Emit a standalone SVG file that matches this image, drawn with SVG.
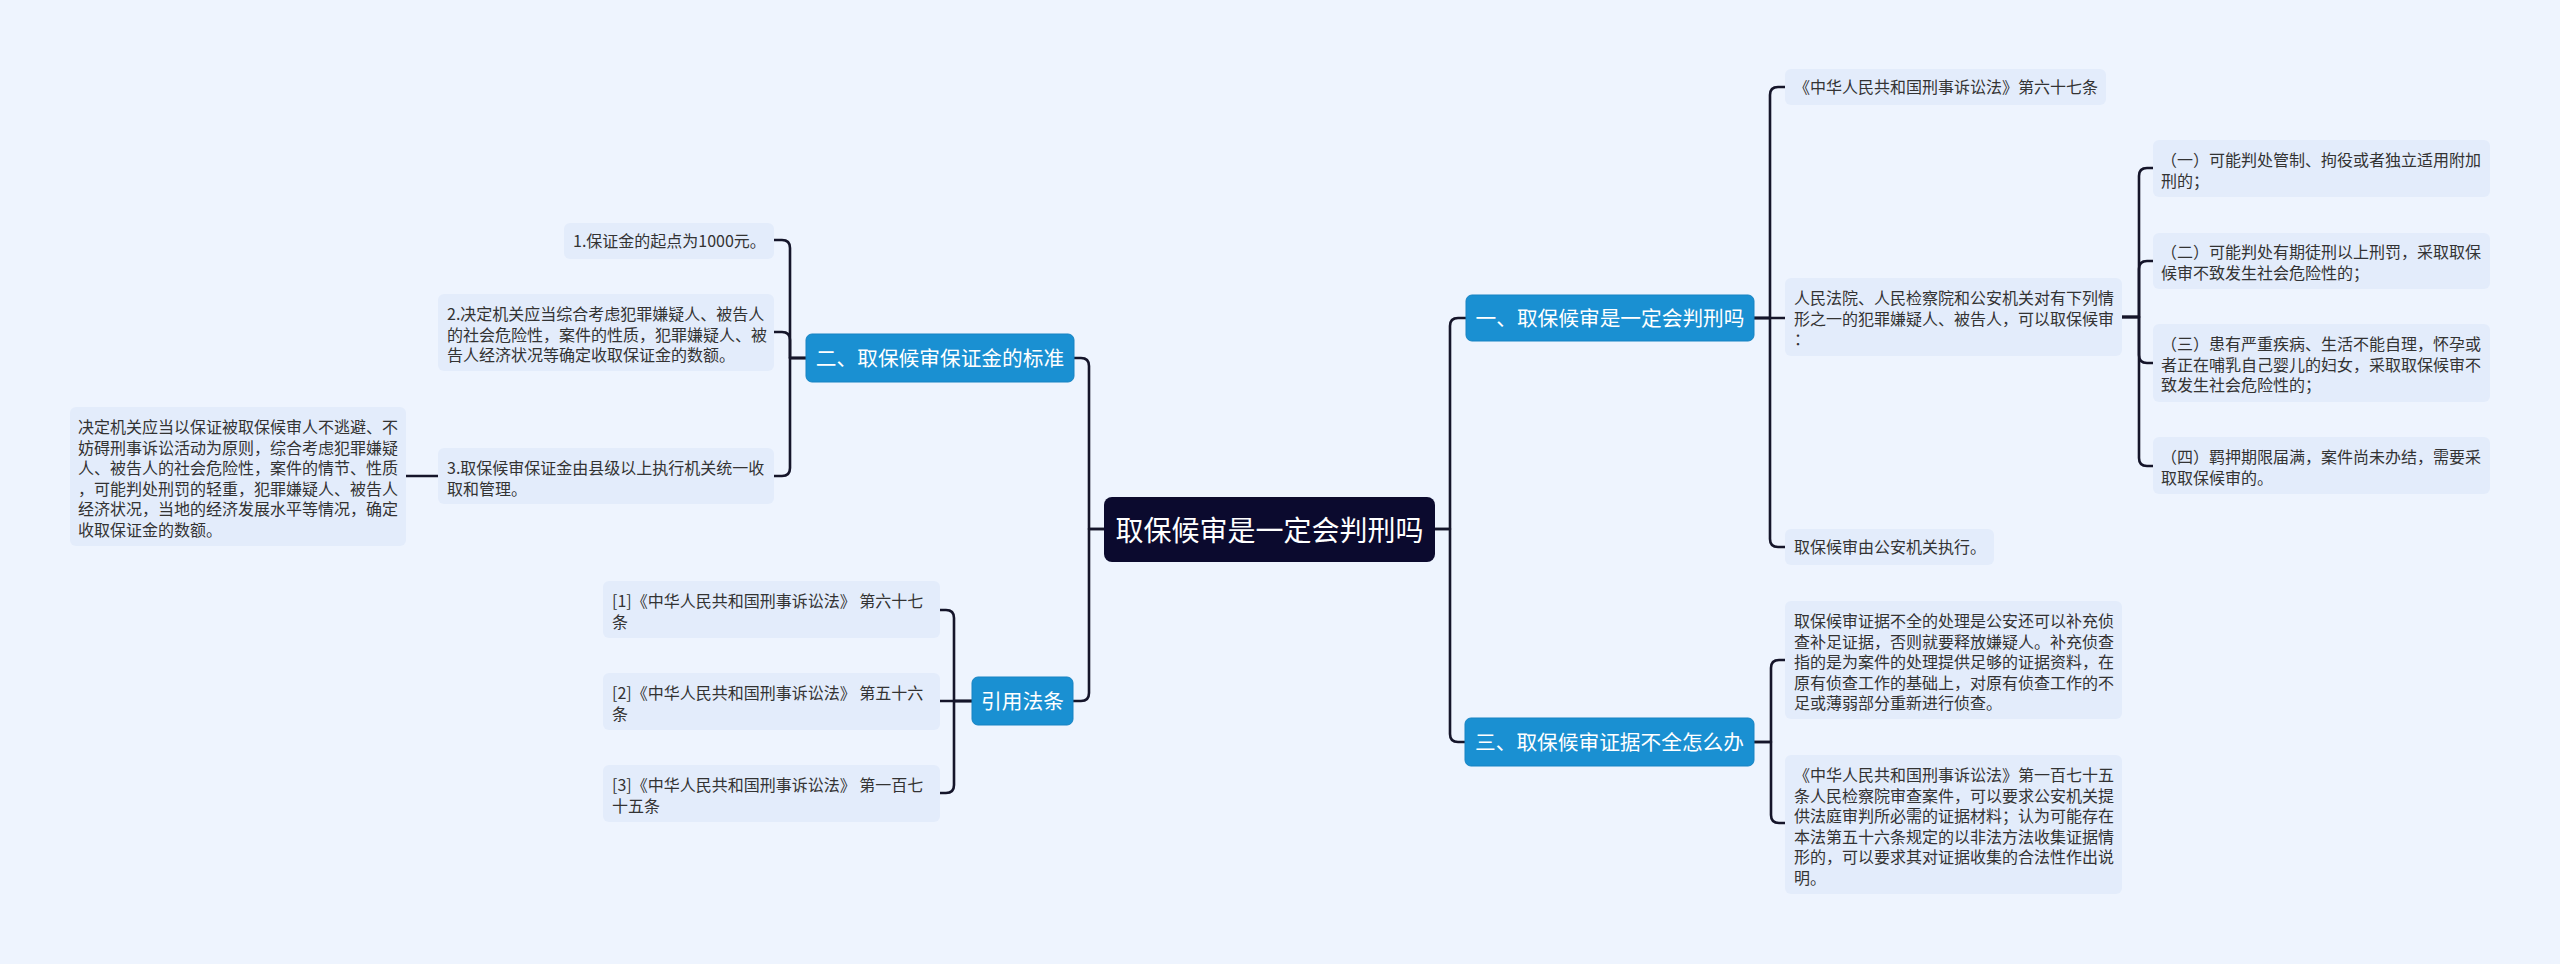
<svg xmlns="http://www.w3.org/2000/svg" width="2560" height="964" viewBox="0 0 2560 964">
<style>
.bg{fill:#eef4fe}
.leaf{fill:#e3ecfb}
.blue{fill:#1a90d2;stroke:#1683c3;stroke-width:1}
.root{fill:#0b0a2e}
.t{font-family:"Noto Sans CJK SC","Noto Sans",sans-serif;font-size:16px;fill:#333333}
.tb{font-family:"Noto Sans CJK SC","Noto Sans",sans-serif;font-size:20.7px;fill:#ffffff;text-anchor:middle}
.tr{font-family:"Noto Sans CJK SC","Noto Sans",sans-serif;font-size:28px;fill:#ffffff;text-anchor:middle}
.ln{fill:none;stroke:#15152a;stroke-width:2.6;stroke-linecap:round;stroke-linejoin:round}
</style>
<rect class="bg" x="0" y="0" width="2560" height="964"/>
<g id="connectors">
<path class="ln" d="M1104,529 H1089 V366 Q1089,358 1081,358 H1074"/>
<path class="ln" d="M1104,529 H1089 V693 Q1089,701 1081,701 H1073"/>
<path class="ln" d="M1435,529 H1450 V326 Q1450,318 1458,318 H1466"/>
<path class="ln" d="M1435,529 H1450 V734 Q1450,742 1458,742 H1465"/>
<path class="ln" d="M806,358 H790 V248 Q790,240 782,240 H774"/>
<path class="ln" d="M806,358 H790 V340 Q790,332 782,332 H774"/>
<path class="ln" d="M806,358 H790 V468 Q790,476 782,476 H774"/>
<path class="ln" d="M438,476 H406"/>
<path class="ln" d="M972,701 H954 V618 Q954,610 946,610 H940"/>
<path class="ln" d="M972,701 H940"/>
<path class="ln" d="M972,701 H954 V785 Q954,793 946,793 H940"/>
<path class="ln" d="M1754,318 H1770 V95 Q1770,87 1778,87 H1785"/>
<path class="ln" d="M1754,318 H1785"/>
<path class="ln" d="M1754,318 H1770 V539 Q1770,547 1778,547 H1785"/>
<path class="ln" d="M2122,317 H2139 V176 Q2139,168 2147,168 H2153"/>
<path class="ln" d="M2122,317 H2139 V269 Q2139,261 2147,261 H2153"/>
<path class="ln" d="M2122,317 H2139 V355 Q2139,363 2147,363 H2153"/>
<path class="ln" d="M2122,317 H2139 V458 Q2139,466 2147,466 H2153"/>
<path class="ln" d="M1754,742 H1771 V668 Q1771,660 1779,660 H1785"/>
<path class="ln" d="M1754,742 H1771 V815 Q1771,823 1779,823 H1785"/>
</g>
<g id="root">
<rect class="root" x="1104" y="497" width="331" height="65" rx="8"/>
<text class="tr" x="1269.5" y="540.5">取保候审是一定会判刑吗</text>
</g>
<g id="b2">
<rect class="blue" x="806" y="334" width="268" height="48" rx="6"/>
<text class="tb" x="940" y="365.5">二、取保候审保证金的标准</text>
</g>
<g id="b4">
<rect class="blue" x="972" y="677" width="101" height="48" rx="6"/>
<text class="tb" x="1022.5" y="708.5">引用法条</text>
</g>
<g id="b1">
<rect class="blue" x="1466" y="295" width="288" height="46" rx="6"/>
<text class="tb" x="1610" y="325.5">一、取保候审是一定会判刑吗</text>
</g>
<g id="b3">
<rect class="blue" x="1465" y="718" width="289" height="48" rx="6"/>
<text class="tb" x="1609.5" y="749.5">三、取保候审证据不全怎么办</text>
</g>
<g id="n1">
<rect class="leaf" x="564" y="223" width="210" height="36" rx="6"/>
<text class="t" x="573" y="247">1.保证金的起点为1000元。</text>
</g>
<g id="n2">
<rect class="leaf" x="438" y="294" width="336" height="77" rx="6"/>
<text class="t"><tspan x="447" y="320">2.决定机关应当综合考虑犯罪嫌疑人、被告人</tspan><tspan x="447" y="340.5">的社会危险性，案件的性质，犯罪嫌疑人、被</tspan><tspan x="447" y="361">告人经济状况等确定收取保证金的数额。</tspan></text>
</g>
<g id="n3">
<rect class="leaf" x="438" y="448" width="336" height="56" rx="6"/>
<text class="t"><tspan x="447" y="474">3.取保候审保证金由县级以上执行机关统一收</tspan><tspan x="447" y="494.5">取和管理。</tspan></text>
</g>
<g id="n3a">
<rect class="leaf" x="70" y="407" width="336" height="139" rx="6"/>
<text class="t"><tspan x="78" y="433">决定机关应当以保证被取保候审人不逃避、不</tspan><tspan x="78" y="453.5">妨碍刑事诉讼活动为原则，综合考虑犯罪嫌疑</tspan><tspan x="78" y="474">人、被告人的社会危险性，案件的情节、性质</tspan><tspan x="78" y="494.5">，可能判处刑罚的轻重，犯罪嫌疑人、被告人</tspan><tspan x="78" y="515">经济状况，当地的经济发展水平等情况，确定</tspan><tspan x="78" y="535.5">收取保证金的数额。</tspan></text>
</g>
<g id="c1">
<rect class="leaf" x="603" y="581" width="337" height="57" rx="6"/>
<text class="t"><tspan x="612" y="607">[1]《中华人民共和国刑事诉讼法》 第六十七</tspan><tspan x="612" y="627.5">条</tspan></text>
</g>
<g id="c2">
<rect class="leaf" x="603" y="673" width="337" height="57" rx="6"/>
<text class="t"><tspan x="612" y="699">[2]《中华人民共和国刑事诉讼法》 第五十六</tspan><tspan x="612" y="719.5">条</tspan></text>
</g>
<g id="c3">
<rect class="leaf" x="603" y="765" width="337" height="57" rx="6"/>
<text class="t"><tspan x="612" y="791">[3]《中华人民共和国刑事诉讼法》 第一百七</tspan><tspan x="612" y="811.5">十五条</tspan></text>
</g>
<g id="r1">
<rect class="leaf" x="1785" y="69" width="321" height="36" rx="6"/>
<text class="t" x="1794" y="93">《中华人民共和国刑事诉讼法》第六十七条</text>
</g>
<g id="r2">
<rect class="leaf" x="1785" y="278" width="337" height="78" rx="6"/>
<text class="t"><tspan x="1794" y="304">人民法院、人民检察院和公安机关对有下列情</tspan><tspan x="1794" y="324.5">形之一的犯罪嫌疑人、被告人，可以取保候审</tspan><tspan x="1794" y="345">：</tspan></text>
</g>
<g id="r3">
<rect class="leaf" x="1785" y="529" width="209" height="36" rx="6"/>
<text class="t" x="1794" y="553">取保候审由公安机关执行。</text>
</g>
<g id="s1">
<rect class="leaf" x="2153" y="140" width="337" height="57" rx="6"/>
<text class="t"><tspan x="2161" y="166">（一）可能判处管制、拘役或者独立适用附加</tspan><tspan x="2161" y="186.5">刑的；</tspan></text>
</g>
<g id="s2">
<rect class="leaf" x="2153" y="233" width="337" height="56" rx="6"/>
<text class="t"><tspan x="2161" y="258">（二）可能判处有期徒刑以上刑罚，采取取保</tspan><tspan x="2161" y="278.5">候审不致发生社会危险性的；</tspan></text>
</g>
<g id="s3">
<rect class="leaf" x="2153" y="324" width="337" height="78" rx="6"/>
<text class="t"><tspan x="2161" y="350">（三）患有严重疾病、生活不能自理，怀孕或</tspan><tspan x="2161" y="370.5">者正在哺乳自己婴儿的妇女，采取取保候审不</tspan><tspan x="2161" y="391">致发生社会危险性的；</tspan></text>
</g>
<g id="s4">
<rect class="leaf" x="2153" y="437" width="337" height="57" rx="6"/>
<text class="t"><tspan x="2161" y="463">（四）羁押期限届满，案件尚未办结，需要采</tspan><tspan x="2161" y="483.5">取取保候审的。</tspan></text>
</g>
<g id="t1">
<rect class="leaf" x="1785" y="601" width="337" height="118" rx="6"/>
<text class="t"><tspan x="1794" y="627">取保候审证据不全的处理是公安还可以补充侦</tspan><tspan x="1794" y="647.5">查补足证据，否则就要释放嫌疑人。补充侦查</tspan><tspan x="1794" y="668">指的是为案件的处理提供足够的证据资料，在</tspan><tspan x="1794" y="688.5">原有侦查工作的基础上，对原有侦查工作的不</tspan><tspan x="1794" y="709">足或薄弱部分重新进行侦查。</tspan></text>
</g>
<g id="t2">
<rect class="leaf" x="1785" y="755" width="337" height="139" rx="6"/>
<text class="t"><tspan x="1794" y="781">《中华人民共和国刑事诉讼法》第一百七十五</tspan><tspan x="1794" y="801.5">条人民检察院审查案件，可以要求公安机关提</tspan><tspan x="1794" y="822">供法庭审判所必需的证据材料；认为可能存在</tspan><tspan x="1794" y="842.5">本法第五十六条规定的以非法方法收集证据情</tspan><tspan x="1794" y="863">形的，可以要求其对证据收集的合法性作出说</tspan><tspan x="1794" y="883.5">明。</tspan></text>
</g>
</svg>
